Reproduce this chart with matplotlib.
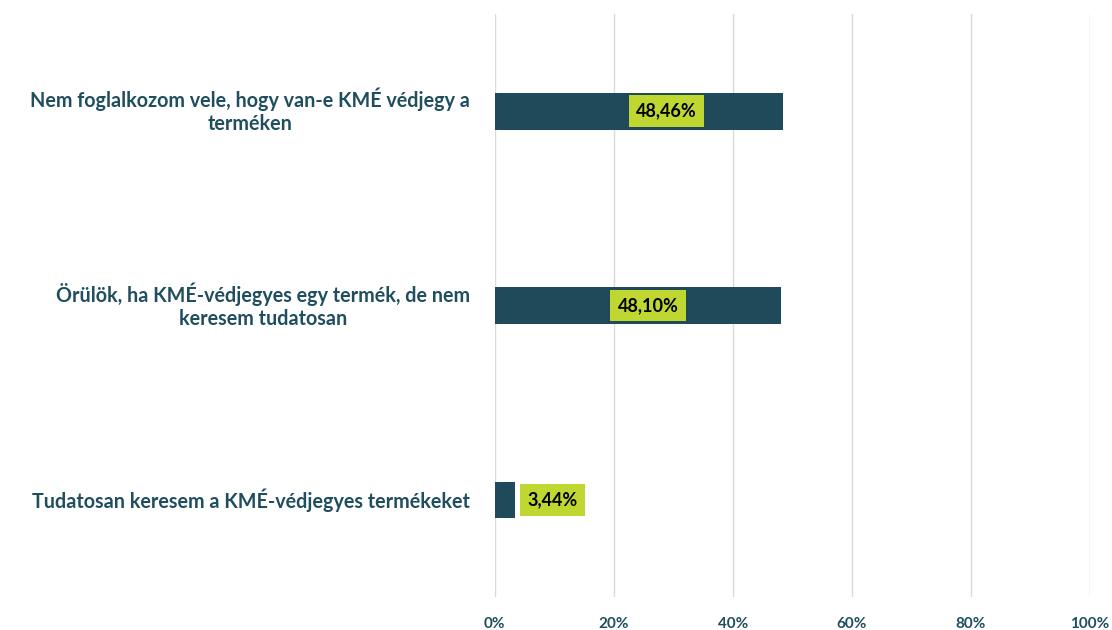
import numpy as np
import matplotlib.pyplot as plt

plt.rcParams['font.family'] = ['Lato', 'DejaVu Sans']

categories = ["Nem foglalkozom vele, hogy van-e KMÉ védjegy a\nterméken",
              "Örülök, ha KMÉ-védjegyes egy termék, de nem\nkeresem tudatosan",
              "Tudatosan keresem a KMÉ-védjegyes termékeket"]
values = [48.46, 48.10, 3.44]
labels = ["48,46%", "48,10%", "3,44%"]
ticks = [0, 20, 40, 60, 80, 100]
tick_labels = ["0%", "20%", "40%", "60%", "80%", "100%"]

bar_col = '#1F4A5A'
txt_col = '#1F4E5F'
box_col = '#BFD730'

fig = plt.figure(figsize=(11.12, 6.3), dpi=100)
ax = fig.add_axes([0.445, 0.052, 0.535, 0.926])

y = np.arange(len(categories))
ax.barh(y, values, height=0.19, color=bar_col, zorder=3)
ax.set_ylim(2.5, -0.5)
ax.set_xlim(0, 100)

ax.set_xticks(ticks)
ax.set_xticklabels(tick_labels, fontsize=11, fontweight='bold', color=txt_col)
ax.set_yticks([])
ax.grid(axis='x', color='#D9D9D9', linewidth=1, zorder=0)
ax.tick_params(axis='x', length=0, pad=14)
for s in ax.spines.values():
    s.set_visible(False)

# data labels (Excel-like placement)
xpos = [values[0] / 2 + 4.6, values[1] / 2 + 1.7, values[2] + 2.0]
has = ['center', 'center', 'left']
for i in range(len(values)):
    ax.text(xpos[i], y[i], labels[i], ha=has[i], va='center', fontsize=13,
            fontweight='bold', color='black', zorder=4,
            bbox=dict(boxstyle='square,pad=0.4', fc=box_col, ec='none'))

for i, c in enumerate(categories):
    ax.text(-4.2, y[i], c, ha='right', va='center', multialignment='center',
            fontsize=14.2, fontweight='bold', color=txt_col, linespacing=1.2)

fig.savefig('out.png', dpi=100)
